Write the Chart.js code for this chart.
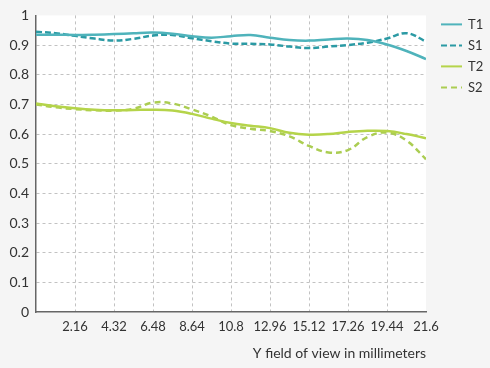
<!DOCTYPE html>
<html>
<head>
<meta charset="utf-8">
<script src="https://cdn.jsdelivr.net/npm/chart.js@4.4.1/dist/chart.umd.min.js"></script>
<style>
  html, body { margin: 0; padding: 0; background: #f5f5f5; }
  #wrap { width: 490px; height: 368px; }
</style>
</head>
<body>
<div id="wrap"><canvas id="fovChart"></canvas></div>
<script>
// field of view (mm) where each curve was sampled
const xValues = [0, 1.08, 2.16, 3.24, 4.32, 5.4, 6.48, 7.56, 8.64, 9.72, 10.8,
  11.88, 12.96, 14.04, 15.12, 16.2, 17.28, 18.36, 19.44, 20.52, 21.6];

const t1 = [0.935, 0.935, 0.934, 0.935, 0.937, 0.940, 0.942, 0.938, 0.930, 0.925, 0.930,
  0.934, 0.925, 0.917, 0.915, 0.919, 0.922, 0.917, 0.902, 0.880, 0.853];
const s1 = [0.945, 0.940, 0.931, 0.922, 0.915, 0.921, 0.932, 0.934, 0.923, 0.913, 0.905,
  0.904, 0.902, 0.895, 0.890, 0.895, 0.900, 0.908, 0.922, 0.940, 0.912];
const t2 = [0.703, 0.694, 0.687, 0.682, 0.680, 0.681, 0.682, 0.679, 0.668, 0.652, 0.637,
  0.628, 0.620, 0.604, 0.598, 0.600, 0.607, 0.611, 0.610, 0.600, 0.586];
const s2 = [0.700, 0.690, 0.684, 0.680, 0.679, 0.685, 0.706, 0.703, 0.683, 0.659, 0.630,
  0.618, 0.610, 0.592, 0.560, 0.538, 0.546, 0.590, 0.605, 0.578, 0.515];

const xTickLabels = ['2.16', '4.32', '6.48', '8.64', '10.8', '12.96', '15.12', '17.26', '19.44', '21.6'];
const xStep = 2.16;

function toPoints(ys) {
  return ys.map((y, i) => ({ x: xValues[i], y: y }));
}

Chart.defaults.font.family = 'Lato, sans-serif';
Chart.defaults.color = '#333';

const gridColor = '#c2c2c2';

// light grey page, white plot area
const plotBackground = {
  id: 'plotBackground',
  beforeDraw(chart) {
    const { ctx, chartArea: a, width, height } = chart;
    ctx.save();
    ctx.fillStyle = '#f5f5f5';
    ctx.fillRect(0, 0, width, height);
    ctx.fillStyle = '#ffffff';
    ctx.fillRect(a.left, a.top, a.right - a.left, a.bottom - a.top);
    ctx.restore();
  }
};

// legend to the right of the plot, lines + names
const sideLegend = {
  id: 'sideLegend',
  afterDraw(chart) {
    const { ctx, chartArea: a } = chart;
    ctx.save();
    ctx.font = '13px Lato, sans-serif';
    ctx.textBaseline = 'middle';
    chart.data.datasets.forEach((ds, i) => {
      const y = a.top + 9 + i * 21;
      const x0 = a.right + 15;
      ctx.strokeStyle = ds.borderColor;
      ctx.lineWidth = 2;
      ctx.setLineDash(ds.borderDash || []);
      ctx.beginPath();
      ctx.moveTo(x0, y);
      ctx.lineTo(x0 + 21, y);
      ctx.stroke();
      ctx.fillStyle = '#333';
      ctx.fillText(ds.label, x0 + 27, y);
    });
    ctx.restore();
  }
};

const ctx = document.getElementById('fovChart').getContext('2d');
new Chart(ctx, {
  type: 'line',
  data: {
    datasets: [
      { label: 'T1', data: toPoints(t1), borderColor: '#4fb3bb', borderWidth: 2.5 },
      { label: 'S1', data: toPoints(s1), borderColor: '#2b9aa4', borderWidth: 2.5, borderDash: [6, 3] },
      { label: 'T2', data: toPoints(t2), borderColor: '#b5d44a', borderWidth: 2.5 },
      { label: 'S2', data: toPoints(s2), borderColor: '#abcd52', borderWidth: 2.5, borderDash: [6, 4] }
    ]
  },
  options: {
    responsive: true,
    maintainAspectRatio: false,
    animation: false,
    layout: { padding: { top: 8, right: 64, bottom: 0, left: 0 } },
    elements: {
      point: { radius: 0 },
      line: { tension: 0.4, fill: false }
    },
    plugins: {
      legend: { display: false },
      tooltip: { enabled: false }
    },
    scales: {
      x: {
        type: 'linear',
        min: 0,
        max: 21.6,
        afterBuildTicks: scale => {
          scale.ticks = xTickLabels.map((l, i) => ({ value: (i + 1) * xStep }));
        },
        afterFit: scale => { scale.height = 56; },
        ticks: {
          autoSkip: false,
          maxRotation: 0,
          padding: 7,
          font: { size: 13 },
          callback: (v, i) => xTickLabels[i]
        },
        grid: {
          drawTicks: false,
          color: c => c.index === xTickLabels.length - 1 ? 'transparent' : gridColor
        },
        border: { color: '#666', width: 1.5, dash: [3, 3] },
        title: {
          display: true,
          text: 'Y field of view in millimeters',
          align: 'end',
          font: { size: 14 },
          padding: { top: 4, bottom: 6 }
        }
      },
      y: {
        min: 0,
        max: 1,
        afterFit: scale => { scale.width = 36; },
        ticks: {
          stepSize: 0.1,
          padding: 7,
          font: { size: 14 },
          callback: v => String(Number(v.toFixed(1)))
        },
        grid: {
          drawTicks: false,
          color: c => (c.tick && (Math.abs(c.tick.value - 1) < 1e-9 || c.tick.value === 0)) ? 'transparent' : gridColor
        },
        border: { color: '#666', width: 1.5, dash: [3, 3] }
      }
    }
  },
  plugins: [plotBackground, sideLegend]
});
</script>
</body>
</html>
